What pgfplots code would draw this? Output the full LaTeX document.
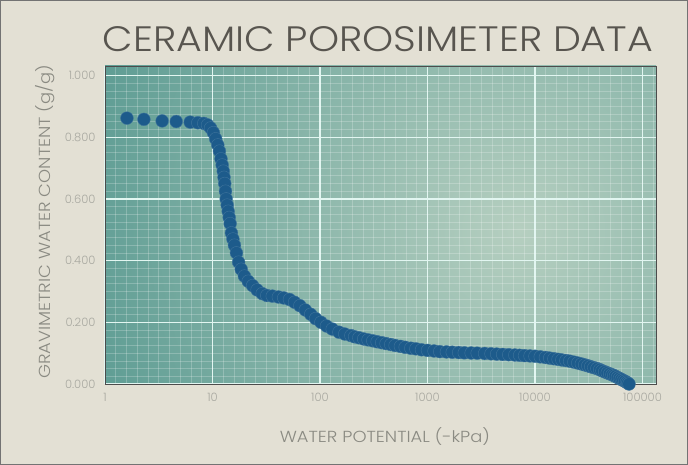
\documentclass[border=0pt]{standalone}
\usepackage{fontspec}
\setmainfont{Poppins}[UprightFont=* Light]
\newfontfamily\wide{Poppins}[UprightFont=* Light, FakeStretch=1.12]
\usepackage{pgfplots}
\pgfplotsset{compat=1.18}
\definecolor{bgcol}{HTML}{E3E0D4}
\definecolor{plotdark}{HTML}{35857F}
\definecolor{plotlight}{HTML}{B6CFC0}
\definecolor{markcol}{HTML}{1D5B8B}
\definecolor{gridmaj}{HTML}{E2F6F1}
\definecolor{ticklab}{HTML}{A8A8A0}
\definecolor{axlab}{HTML}{8A8A82}
\definecolor{titlecol}{HTML}{58554F}
\begin{document}
\begin{tikzpicture}[x=1pt,y=1pt]
\useasboundingbox (0,0) rectangle (688,465);
\fill[bgcol] (0,0) rectangle (688,465);
\draw[black!55, line width=1.2pt] (0.6,0.6) rectangle (687.4,464.4);
\begin{scope}
\clip (105,81) rectangle (656,399);
\shade[inner color=plotlight, outer color=plotdark] (520,235) circle (660);
\end{scope}
\node[text=titlecol, font=\wide\fontsize{35.3}{40}\selectfont] at (378,426) {CERAMIC POROSIMETER DATA};
\begin{axis}[
  at={(105pt,81pt)}, anchor=south west,
  scale only axis, width=551pt, height=318pt,
  xmode=log, log basis x=10,
  xmin=1, xmax=133600, ymin=0, ymax=1.031,
  xtick={1,10,100,1000,10000,100000},
  xticklabels={1,10,100,1000,10000,100000},
  minor xtick={1.259,1.585,1.995,2.512,3.162,3.981,5.012,6.310,7.943,
    12.59,15.85,19.95,25.12,31.62,39.81,50.12,63.10,79.43,
    125.9,158.5,199.5,251.2,316.2,398.1,501.2,631.0,794.3,
    1259,1585,1995,2512,3162,3981,5012,6310,7943,
    12590,15850,19950,25120,31620,39810,50120,63100,79430,125900},
  ytick={0,0.2,0.4,0.6,0.8,1.0},
  /pgf/number format/assume math mode=true,
  yticklabel style={/pgf/number format/fixed, /pgf/number format/fixed zerofill, /pgf/number format/precision=3},
  yticklabel style={text=ticklab, font=\fontsize{11.5}{13}\selectfont, xshift=-6pt},
  xticklabel style={text=ticklab, font=\fontsize{11.5}{13}\selectfont, yshift=-6pt},
  minor y tick num=7,
  grid=both,
  major grid style={draw=gridmaj, line width=1.3pt},
  minor grid style={draw=white, opacity=0.22, line width=0.7pt},
  axis line style={draw=black!70, line width=0.9pt},
  major tick length=0pt, minor tick length=0pt,
  xlabel={WATER POTENTIAL (-kPa)},
  ylabel={GRAVIMETRIC WATER CONTENT (g/g)},
  xlabel style={at={(axis description cs:0.508,-0.165)}, anchor=center, text=axlab, font=\wide\fontsize{16}{18}\selectfont},
  ylabel style={at={(axis description cs:-0.109,0.51)}, anchor=center, text=axlab, font=\wide\fontsize{16}{18}\selectfont},
  clip=true,
]
\addplot[only marks, mark=*, mark size=6.4pt, mark options={fill=markcol, draw=markcol!85!white, line width=0.4pt}] coordinates {
(1.6,0.862)(2.3,0.858)(3.4,0.853)(4.6,0.851)(6.2,0.849)(7.3,0.847)(8.3,0.845)(9.0,0.840)(9.6,0.830)
(10.2,0.815)(10.7,0.795)(11.2,0.775)(11.6,0.755)(12.0,0.730)(12.3,0.710)(12.6,0.690)
(12.8,0.670)(13.0,0.650)(13.2,0.625)(13.4,0.600)(13.7,0.580)(14.0,0.560)(14.3,0.540)
(14.6,0.520)(15.0,0.490)(15.5,0.470)(16.0,0.450)(16.7,0.425)(17.5,0.395)(18.5,0.372)
(19.8,0.350)(21.5,0.333)(23.6,0.319)(26,0.305)(29,0.293)(32,0.287)(36,0.285)(41,0.282)
(46,0.279)(52,0.274)(58,0.265)(65,0.254)(73,0.240)(82,0.226)(91,0.212)(102,0.200)
(115,0.188)(130,0.178)(150,0.168)(170,0.162)(194,0.157)(210,0.153)(230,0.150)(255,0.146)
(280,0.143)(310,0.140)(340,0.137)(375,0.134)(412,0.131)(455,0.128)(500,0.125)(560,0.122)
(620,0.119)(700,0.116)(780,0.114)(880,0.111)(1000,0.109)(1150,0.107)(1300,0.105)(1500,0.104)
(1700,0.103)(1950,0.102)(2200,0.101)(2550,0.1005)(2900,0.100)(3400,0.099)(3900,0.098)
(4400,0.097)(5000,0.096)(5700,0.095)(6500,0.094)(7200,0.093)(8000,0.092)(9000,0.091)
(10000,0.090)(11200,0.088)(12500,0.086)(13700,0.084)(15000,0.082)(16400,0.080)(17800,0.078)
(19400,0.076)(21000,0.074)(23000,0.071)(25000,0.068)(27000,0.065)(29000,0.062)(31000,0.059)
(33000,0.056)(35300,0.053)(37700,0.050)(40000,0.0465)(42000,0.043)(44500,0.0395)(47000,0.036)
(49500,0.033)(52000,0.030)(54000,0.0275)(56000,0.025)(58500,0.0215)(61000,0.018)(63500,0.015)
(66000,0.012)(68500,0.009)(71000,0.006)(73000,0.003)(75000,0.0)
};
\end{axis}
\end{tikzpicture}
\end{document}
